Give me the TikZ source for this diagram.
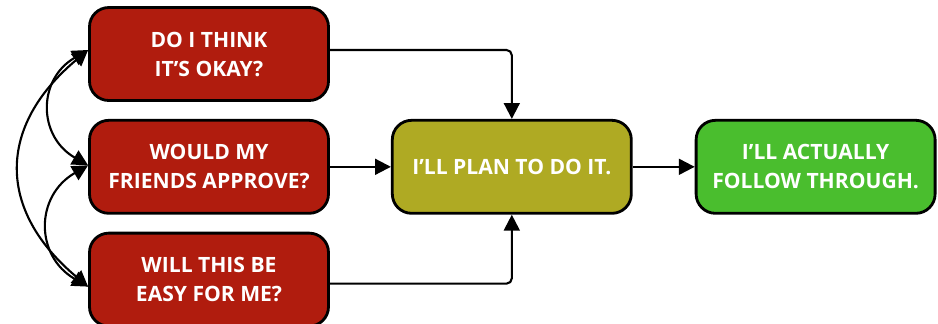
\documentclass[tikz,border=0pt]{standalone}
\usepackage{fontspec}
\setmainfont{Open Sans}
\usepackage{xcolor}
\usepackage{tikz}
\usetikzlibrary{positioning, arrows.meta}
\definecolor{ib-red}{RGB}{176,28,14}
\definecolor{ib-olive}{RGB}{175,170,35}
\definecolor{ib-green}{RGB}{74,190,46}
\tikzset{
  ib@box/.style={
    draw=black, line width=1.6pt, rounded corners=11pt,
    minimum width=4.78cm, minimum height=1.86cm,
    align=center, text=white,
    font=\fontsize{12}{16.5}\selectfont\bfseries
  },
  ib@question/.style={ib@box, fill=ib-red},
  ib@intent/.style={ib@box, fill=ib-olive},
  ib@action/.style={ib@box, fill=ib-green},
  ib@arr/.style={-{Triangle[length=9pt,width=9pt]}, line width=1.2pt, rounded corners=3pt},
  ib@both/.style={{Triangle[length=9pt,width=9pt]}-{Triangle[length=9pt,width=9pt]}, line width=1.2pt},
}
\begin{document}
\begin{tikzpicture}[node distance=0.34cm and 1.22cm]
  \useasboundingbox (0,0) rectangle (18.76,-6.46);
  \node[ib@question] at (4.18,-1.08) (think)   {DO I THINK\\IT’S OKAY?};
  \node[ib@question, below=of think]   (friends) {WOULD MY\\FRIENDS APPROVE?};
  \node[ib@question, below=of friends] (easy)    {WILL THIS BE\\EASY FOR ME?};
  \node[ib@intent, right=of friends]   (plan)    {I’LL PLAN TO DO IT.};
  \node[ib@action, right=1.24cm of plan] (follow) {I’LL ACTUALLY\\FOLLOW THROUGH.};
  % into the plan
  \draw[ib@arr] ([yshift=0.08cm]think.east) -| (plan.north);
  \draw[ib@arr] (friends) -- (plan);
  \draw[ib@arr] ([yshift=-0.08cm]easy.east) -| (plan.south);
  \draw[ib@arr] (plan) -- (follow);
  % the three beliefs feed each other
  \draw[ib@both] ([yshift=0.08cm]think.west) to[out=210, in=150, looseness=1.3] ([yshift=0.03cm]friends.west);
  \draw[ib@both] ([yshift=0.03cm]friends.west) to[out=210, in=150, looseness=1.3] ([yshift=-0.14cm]easy.west);
  \draw[ib@both] ([yshift=0.08cm]think.west) to[out=220, in=140, looseness=1.29] ([yshift=-0.14cm]easy.west);
\end{tikzpicture}
\end{document}
